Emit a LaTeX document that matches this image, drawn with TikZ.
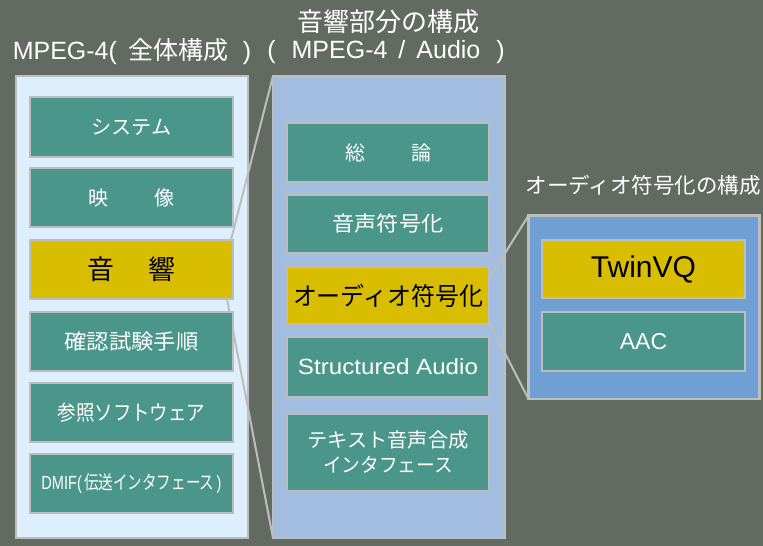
\documentclass[tikz,border=0pt]{standalone}
\usepackage{fontspec}
\usepackage{graphicx}
\setmainfont{Liberation Sans}
\newfontfamily\jp{Noto Sans CJK JP}
\definecolor{bgc}{HTML}{636A62}
\definecolor{teal}{HTML}{4A968A}
\definecolor{yel}{HTML}{D9BD00}
\definecolor{edge}{HTML}{BDBDBD}
\definecolor{lp}{HTML}{DDEEFC}
\definecolor{mp}{HTML}{A2BDE0}
\definecolor{rp}{HTML}{709FD3}
\newcommand{\fw}[2]{\resizebox{#1}{\height}{#2}}
\newcommand{\fs}[1]{\fontsize{#1}{#1}\selectfont}
\pgfdeclarelayer{panel}
\pgfdeclarelayer{lines}
\pgfsetlayers{panel,lines,main}
\tikzset{
  panelbox/.style={draw=edge, line width=2.6pt, outer sep=0pt, inner sep=0pt, anchor=north west},
  tbox/.style={draw=edge, line width=2.3pt, fill=teal, text=white, outer sep=0pt, inner sep=0pt, minimum width=#1, align=center},
  ybox/.style={tbox=#1, fill=yel, text=black},
  conn/.style={draw=edge, line width=2pt},
  title/.style={text=white, inner sep=0pt, align=center}
}
\begin{document}
\begin{tikzpicture}[x=1pt,y=-1pt]
\begin{pgfonlayer}{panel}
\fill[bgc] (0,0) rectangle (763,546);
\useasboundingbox (0,0) rectangle (763,546);
\node[panelbox, fill=lp, minimum width=232pt, minimum height=462pt] (leftp) at (16,76) {};
\node[panelbox, fill=mp, minimum width=231.5pt, minimum height=462pt] (midp) at (273,76) {};
\node[panelbox, fill=rp, minimum width=231pt, minimum height=183.5pt] (rightp) at (528.5,215.5) {};
\end{pgfonlayer}

% titles
\node[title] (t1) at (132,52) {\fs{25}MPEG-4(\hspace{12pt}{\jp 全体構成}\hspace{14pt})};
\node[title] (t2) at (388,22) {\fs{26}\jp 音響部分の構成};
\node[title] (t3) at (386,52) {\fs{25}(\hspace{16pt}MPEG-4\hspace{11pt}/\hspace{11pt}Audio\hspace{16pt})};
\node[title] (t4) at (643,185) {\fs{21.5}\jp オーディオ符号化の構成};

% left boxes
\node[tbox=203pt, minimum height=60pt] (sys) at (131.5,127) {\fs{20}\fw{80pt}{\jp システム}};
\node[tbox=203pt, minimum height=59pt] (eizo) at (131.5,197.5) {\fs{20}\jp 映\hspace{46pt}像};
\node[ybox=203pt, minimum height=59pt] (onkyo) at (131.5,269.5) {\fs{27}\jp 音\hspace{34pt}響};
\node[tbox=203pt, minimum height=59pt] (kaku) at (131.5,341.5) {\fs{21}\fw{134pt}{\jp 確認試験手順}};
\node[tbox=203pt, minimum height=59pt] (sansho) at (131.5,412.5) {\fs{21}\fw{148pt}{\jp 参照ソフトウェア}};
\node[tbox=203pt, minimum height=59pt] (dmif) at (131.5,483.5) {\fs{19}\fw{180pt}{DMIF(\hspace{3pt}{\jp 伝送インタフェース}\hspace{3pt})}};

% middle boxes
\node[tbox=202pt, minimum height=59pt] (soron) at (388,152.5) {\fs{20}\jp 総\hspace{46pt}論};
\node[tbox=202pt, minimum height=58pt] (onsei) at (388,224) {\fs{21}\fw{111pt}{\jp 音声符号化}};
\node[ybox=202pt, minimum height=57pt] (audio) at (388,295.5) {\fs{25}\fw{190pt}{\jp オーディオ符号化}};
\node[tbox=202pt, minimum height=60pt] (sa) at (388,367) {\fs{22}\fw{180pt}{Structured Audio}};
\node[tbox=202pt, minimum height=77pt] (tts) at (388,452.5) {\fs{20}\fw{161pt}{\jp テキスト音声合成}\\[6pt]\fs{20}\fw{130pt}{\jp インタフェース}};

% right boxes
\node[ybox=203pt, minimum height=58pt] (twin) at (643.5,269) {\fs{30}TwinVQ};
\node[tbox=203pt, minimum height=59pt] (aac) at (643.5,341.5) {\fs{23}AAC};

% connectors
\begin{pgfonlayer}{lines}
\draw[conn] ([xshift=-2pt]onkyo.north east) -- (midp.north west);
\draw[conn] ([xshift=-6pt]onkyo.south east) -- (midp.south west);
\draw[conn] ([yshift=-12pt]audio.north east) -- (rightp.north west);
\draw[conn] ([yshift=2pt]audio.south east) -- (rightp.south west);
\end{pgfonlayer}
\end{tikzpicture}
\end{document}
